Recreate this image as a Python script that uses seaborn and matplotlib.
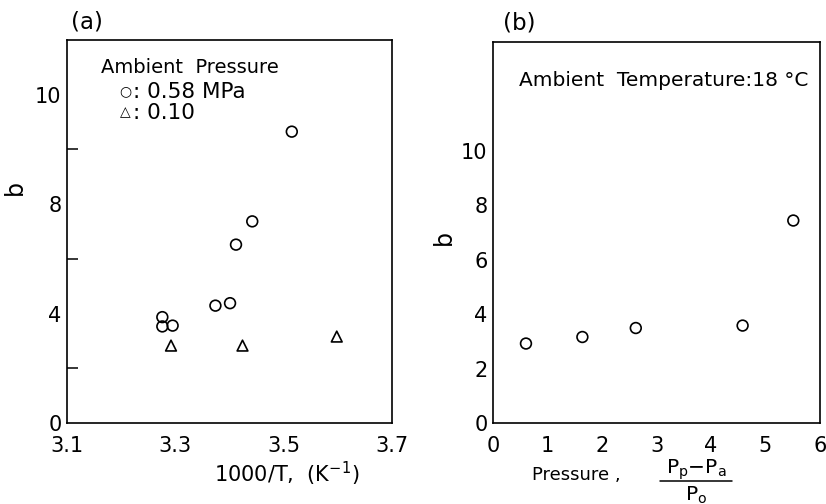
import matplotlib
matplotlib.use("Agg")
import matplotlib.pyplot as plt
import seaborn as sns
import pandas as pd
from matplotlib.lines import Line2D

# ---- data: panel (a) b vs 1000/T ----
a_circ_x = [3.276, 3.276, 3.295, 3.374, 3.401, 3.412, 3.442, 3.515]
a_circ_y = [3.87, 3.53, 3.56, 4.29, 4.38, 6.52, 7.37, 10.65]
a_tri_x = [3.292, 3.424, 3.598]
a_tri_y = [2.83, 2.83, 3.16]
# ---- data: panel (b) b vs pressure ----
b_x = [0.605, 1.64, 2.62, 4.58, 5.51]
b_y = [2.92, 3.16, 3.49, 3.58, 7.44]

a_xticks = [3.1, 3.3, 3.5, 3.7]
a_xticklabels = ["3.1", "3.3", "3.5", "3.7"]
a_yticks = [0, 4, 8, 12]
a_yticklabels = ["0", "4", "8", "10"]
a_yminor = [2, 6, 10]
b_xticks = [0, 1, 2, 3, 4, 5, 6]
b_yticks = [0, 2, 4, 6, 8, 10]

sns.set_style("white")
plt.rcParams['font.family'] = ['DejaVu Sans']
plt.rcParams['mathtext.fontset'] = 'dejavusans'
for k in ('text.color', 'axes.labelcolor', 'xtick.color', 'ytick.color', 'axes.edgecolor'):
    plt.rcParams[k] = 'black'

W, H = 826, 504
fig = plt.figure(figsize=(W / 100, H / 100), dpi=100)

def ax_rect(x0, y0, x1, y1):
    return [x0 / W, 1 - y1 / H, (x1 - x0) / W, (y1 - y0) / H]

axA = fig.add_axes(ax_rect(67, 40, 392, 423))
axB = fig.add_axes(ax_rect(493, 42, 820, 423))

mk = dict(s=60, facecolors='none', edgecolors='black', linewidths=1.2, legend=False)

dfa_c = pd.DataFrame({"x": a_circ_x, "y": a_circ_y})
dfa_t = pd.DataFrame({"x": a_tri_x, "y": a_tri_y})
dfb = pd.DataFrame({"x": b_x, "y": b_y})

sns.scatterplot(data=dfa_c, x="x", y="y", marker='o', ax=axA, **mk)
sns.scatterplot(data=dfa_t, x="x", y="y", marker='^', ax=axA, **mk)
sns.scatterplot(data=dfb, x="x", y="y", marker='o', ax=axB, **mk)

TICK_FS = 15
for ax in (axA, axB):
    for sp in ax.spines.values():
        sp.set_color('black')
        sp.set_linewidth(1.2)
        sp.set_visible(True)
    ax.set_xlabel("")
    ax.set_ylabel("")
    ax.tick_params(direction='in', length=8, width=1.1, colors='black',
                   labelsize=TICK_FS, top=False, right=False)
    ax.tick_params(axis='y', pad=4)
    ax.tick_params(axis='x', pad=9)

axA.set_xlim(3.1, 3.7)
axA.set_ylim(0, 14)
axA.set_xticks(a_xticks)
axA.set_xticklabels(a_xticklabels)
axA.set_yticks(a_yticks)
axA.set_yticklabels(a_yticklabels)
axA.set_yticks(a_yminor, minor=True)
axA.tick_params(axis='y', which='minor', direction='in', length=8, width=1.1, left=True)

axB.set_xlim(0, 6)
axB.set_ylim(0, 14)
axB.set_xticks(b_xticks)
axB.set_yticks(b_yticks)

# y labels
axA.set_ylabel("b", fontsize=17)
axA.yaxis.set_label_coords(-0.125, 0.614)
axB.set_ylabel("b", fontsize=17)
axB.yaxis.set_label_coords(-0.115, 0.488)

# panel tags
axA.text(0.012, 1.047, "(a)", transform=axA.transAxes, fontsize=16.5, va='center', ha='left')
axB.text(0.03, 1.05, "(b)", transform=axB.transAxes, fontsize=16.5, va='center', ha='left')

# legend text panel (a)
axA.text(0.105, 0.927, "Ambient  Pressure", transform=axA.transAxes, fontsize=14, va='center', ha='left')
axA.text(0.178, 0.866, "○", transform=axA.transAxes, fontsize=10, va='center', ha='center')
axA.text(0.178, 0.811, "△", transform=axA.transAxes, fontsize=10, va='center', ha='center')
axA.text(0.203, 0.864, ": 0.58 MPa", transform=axA.transAxes, fontsize=15.5, va='center', ha='left')
axA.text(0.203, 0.809, ": 0.10", transform=axA.transAxes, fontsize=15.5, va='center', ha='left')

# note panel (b)
axB.text(0.078, 0.900, "Ambient  Temperature:18 °C", transform=axB.transAxes, fontsize=14.5, va='center', ha='left')

# x labels
fig.text(287 / W, 1 - 474 / H, "1000/T,  (K$^{-1}$)", fontsize=15, ha='center', va='center')
fig.text(532 / W, 1 - 475 / H, "Pressure ,", fontsize=13, ha='left', va='center')
fig.text(696 / W, 1 - 470 / H, r"P$_\mathrm{p}$$-$P$_\mathrm{a}$", fontsize=14.5, ha='center', va='center')
fig.add_artist(Line2D([660 / W, 732 / W], [1 - 481 / H, 1 - 481 / H], color='black', lw=1.1,
                      transform=fig.transFigure))
fig.text(696 / W, 1 - 495 / H, r"P$_\mathrm{o}$", fontsize=14.5, ha='center', va='center')

fig.savefig("out.png", dpi=100)
